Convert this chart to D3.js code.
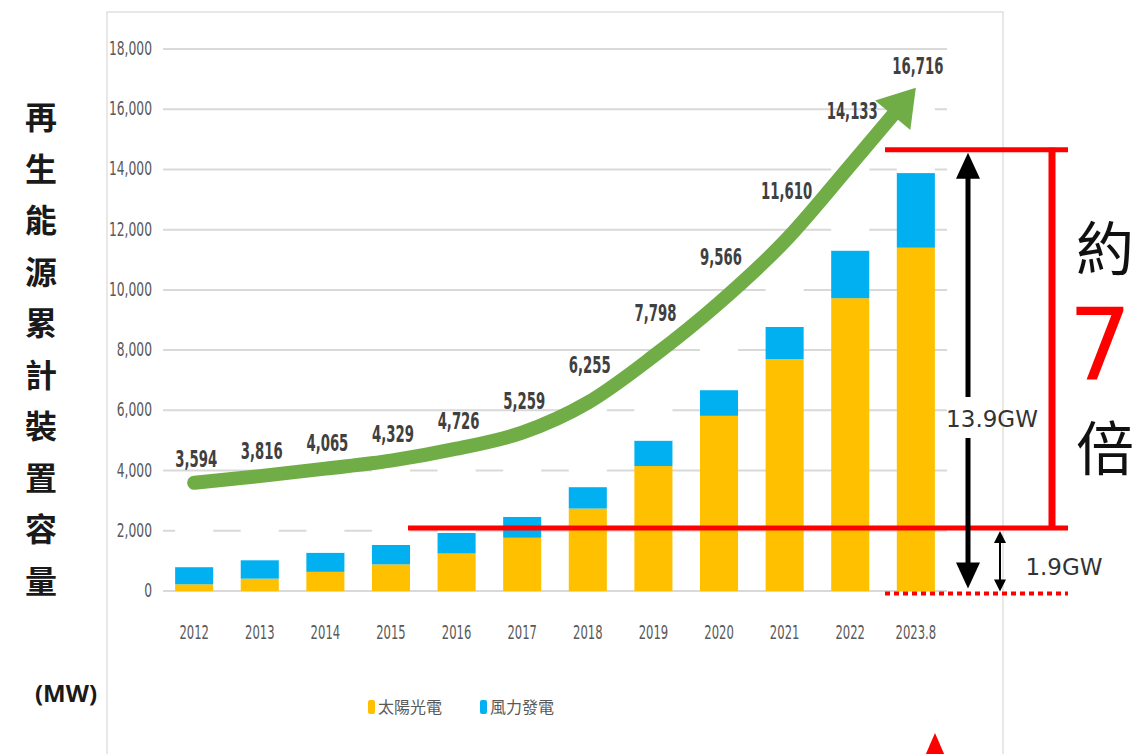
<!DOCTYPE html>
<html>
<head>
<meta charset="utf-8">
<script src="https://cdn.jsdelivr.net/npm/d3@7.9.0/dist/d3.min.js"></script>
<style>
  body { margin: 0; background: #fff; }
  svg { display: block; }
</style>
</head>
<body>
<svg id="chart"></svg>
<script>
// --- Data (MW) ---
const years = ["2012", "2013", "2014", "2015", "2016", "2017", "2018", "2019", "2020", "2021", "2022", "2023.8"];
const solar = [222, 410, 636, 884, 1245, 1768, 2738, 4150, 5817, 7700, 9724, 11400];
const wind = [571, 614, 637, 647, 682, 692, 712, 845, 854, 1070, 1583, 2480];
const total = [3594, 3816, 4065, 4329, 4726, 5259, 6255, 7798, 9566, 11610, 14133, 16716];
const yTicks = [0, 2000, 4000, 6000, 8000, 10000, 12000, 14000, 16000, 18000];
const legendNames = ["太陽光電", "風力發電"];
const axisTitle = "再生能源累計裝置容量";
const unitLabel = "(MW)";

const width = 1139;
const height = 754;

const svg = d3.select("#chart")
  .attr("width", width)
  .attr("height", height);

const narrow = "'Liberation Sans Narrow', 'DejaVu Sans Condensed', 'Liberation Sans', sans-serif";
const cjk = "'Noto Sans CJK TC', 'Noto Sans CJK SC', sans-serif";
const solarColor = "#FFC000";
const windColor = "#00B0F0";
const green = "#70AD47";

// --- Scales ---
const x = d3.scaleBand()
  .domain(years)
  .range([163, 947])
  .paddingInner(0.42)
  .paddingOuter(0.185);
const y = d3.scaleLinear()
  .domain([0, 18000])
  .range([591, 49]);

// chart frame
svg.append("rect")
  .attr("x", 107).attr("y", 12)
  .attr("width", 896).attr("height", 800)
  .attr("fill", "none")
  .attr("stroke", "#d9d9d9")
  .attr("stroke-width", 1.2);

// --- Gridlines ---
svg.append("g")
  .selectAll("line")
  .data(yTicks)
  .join("line")
  .attr("x1", 163).attr("x2", 947)
  .attr("y1", d => y(d)).attr("y2", d => y(d))
  .attr("stroke", "#d9d9d9")
  .attr("stroke-width", 2);

// condensed text helper
function squeeze(sel, sx) {
  sel.attr("transform", function () {
    const t = d3.select(this);
    return `translate(${t.attr("data-x")},${t.attr("data-y")}) scale(${sx},1)`;
  });
}

// y tick labels
svg.append("g")
  .selectAll("text")
  .data(yTicks)
  .join("text")
  .attr("data-x", 152)
  .attr("data-y", d => y(d) + 6)
  .attr("text-anchor", "end")
  .attr("font-family", narrow)
  .attr("font-size", 19)
  .attr("fill", "#595959")
  .text(d => d3.format(",")(d))
  .call(squeeze, 0.72);

// x tick labels
svg.append("g")
  .selectAll("text")
  .data(years)
  .join("text")
  .attr("data-x", d => x(d) + x.bandwidth() / 2)
  .attr("data-y", 639)
  .attr("text-anchor", "middle")
  .attr("font-family", narrow)
  .attr("font-size", 19)
  .attr("fill", "#595959")
  .text(d => d)
  .call(squeeze, 0.68);

// --- Stacked bars (white top segment = other renewables) ---
const rows = years.map((yr, i) => ({
  year: yr, solar: solar[i], wind: wind[i], other: total[i] - solar[i] - wind[i]
}));
const stack = d3.stack().keys(["solar", "wind", "other"])(rows);
const colors = { solar: solarColor, wind: windColor, other: "#ffffff" };

svg.append("g")
  .selectAll("g")
  .data(stack)
  .join("g")
  .attr("fill", d => colors[d.key])
  .selectAll("rect")
  .data(d => d)
  .join("rect")
  .attr("x", d => x(d.data.year))
  .attr("width", x.bandwidth())
  .attr("y", d => y(d[1]))
  .attr("height", d => y(d[0]) - y(d[1]));

// --- Green total arrow ---
const pts = years.map((yr, i) => [x(yr) + x.bandwidth() / 2, y(total[i])]);
const arrowPath = svg.append("path")
  .attr("d", d3.line().curve(d3.curveMonotoneX)(pts))
  .attr("fill", "none")
  .attr("stroke", green)
  .attr("stroke-width", 14)
  .attr("stroke-linecap", "round");
const L = arrowPath.node().getTotalLength();
const headLen = 36, headHalf = 23;
arrowPath.attr("stroke-dasharray", `${L - headLen + 4} ${L}`);
const tip = arrowPath.node().getPointAtLength(L);
const back = arrowPath.node().getPointAtLength(L - headLen);
const ang = Math.atan2(tip.y - back.y, tip.x - back.x);
const nx = -Math.sin(ang), ny = Math.cos(ang);
svg.append("polygon")
  .attr("points", [
    [tip.x, tip.y],
    [back.x + nx * headHalf, back.y + ny * headHalf],
    [back.x - nx * headHalf, back.y - ny * headHalf]
  ].map(p => p.join(",")).join(" "))
  .attr("fill", green);

// total labels, lifted more where the curve is steep
svg.append("g")
  .selectAll("text")
  .data(total)
  .join("text")
  .attr("data-x", (d, i) => pts[i][0] + 2)
  .attr("data-y", (d, i) => {
    const a = pts[Math.max(0, i - 1)][1], b = pts[Math.min(pts.length - 1, i + 1)][1];
    const slope = i === pts.length - 1 ? 0 : Math.abs(a - b) / 2;
    return pts[i][1] - 14 - 0.42 * slope;
  })
  .attr("text-anchor", "middle")
  .attr("font-family", narrow)
  .attr("font-size", 23)
  .attr("font-weight", "bold")
  .attr("fill", "#404040")
  .text(d => d3.format(",")(d))
  .call(squeeze, 0.64);

// --- Legend ---
const legend = svg.append("g")
  .selectAll("g")
  .data(legendNames)
  .join("g")
  .attr("transform", (d, i) => `translate(${368 + i * 112},707)`);
legend.append("rect")
  .attr("x", 0).attr("y", -7)
  .attr("width", 7).attr("height", 14)
  .attr("rx", 2)
  .attr("fill", (d, i) => i === 0 ? solarColor : windColor);
legend.append("text")
  .attr("x", 10).attr("y", 6)
  .attr("font-family", cjk)
  .attr("font-size", 16)
  .attr("fill", "#595959")
  .text(d => d);

// --- Y axis title (vertical) ---
svg.append("g")
  .selectAll("text")
  .data(axisTitle.split(""))
  .join("text")
  .attr("x", 41)
  .attr("y", (d, i) => 115 + i * 51.5)
  .attr("dominant-baseline", "central")
  .attr("text-anchor", "middle")
  .attr("font-family", cjk)
  .attr("font-size", 32)
  .attr("font-weight", "bold")
  .attr("fill", "#1a1a1a")
  .text(d => d);
svg.append("text")
  .attr("x", 66).attr("y", 702)
  .attr("text-anchor", "middle")
  .attr("font-family", "'Noto Sans', sans-serif")
  .attr("font-size", 24)
  .attr("font-weight", "bold")
  .attr("fill", "#1a1a1a")
  .text(unitLabel);

// --- Annotations ---
const ann = svg.append("g");
const red = "#ff0000";
const topY = y(14650), lowY = y(2090), baseY = y(-80);

ann.append("line").attr("x1", 885).attr("x2", 1068).attr("y1", topY).attr("y2", topY)
  .attr("stroke", red).attr("stroke-width", 5);
ann.append("line").attr("x1", 408).attr("x2", 1068).attr("y1", lowY).attr("y2", lowY)
  .attr("stroke", red).attr("stroke-width", 5);
ann.append("line").attr("x1", 1052).attr("x2", 1052).attr("y1", topY - 2).attr("y2", lowY + 2)
  .attr("stroke", red).attr("stroke-width", 7);
ann.append("line").attr("x1", 885).attr("x2", 1068).attr("y1", baseY).attr("y2", baseY)
  .attr("stroke", red).attr("stroke-width", 4).attr("stroke-dasharray", "5,4");

function dblArrow(cx, y1, y2, w, hw, hl) {
  ann.append("line").attr("x1", cx).attr("x2", cx).attr("y1", y1 + hl - 2).attr("y2", y2 - hl + 2)
    .attr("stroke", "#000").attr("stroke-width", w);
  ann.append("polygon").attr("points", `${cx},${y1} ${cx - hw},${y1 + hl} ${cx + hw},${y1 + hl}`).attr("fill", "#000");
  ann.append("polygon").attr("points", `${cx},${y2} ${cx - hw},${y2 - hl} ${cx + hw},${y2 - hl}`).attr("fill", "#000");
}
dblArrow(968, topY + 3, y(80), 5, 12, 26);
dblArrow(1000, lowY + 3, baseY - 2, 2, 6, 12);

// gap in big arrow with label
ann.append("rect").attr("x", 955).attr("y", 397).attr("width", 26).attr("height", 41).attr("fill", "#fff");
ann.append("text")
  .attr("x", 992).attr("y", 427)
  .attr("text-anchor", "middle")
  .attr("font-family", "'DejaVu Sans', sans-serif")
  .attr("font-size", 23)
  .attr("fill", "#333")
  .text("13.9GW");
ann.append("text")
  .attr("x", 1064).attr("y", 575)
  .attr("text-anchor", "middle")
  .attr("font-family", "'DejaVu Sans', sans-serif")
  .attr("font-size", 23)
  .attr("fill", "#333")
  .text("1.9GW");

ann.append("text")
  .attr("x", 1105).attr("y", 245)
  .attr("dominant-baseline", "central")
  .attr("text-anchor", "middle")
  .attr("font-family", cjk)
  .attr("font-size", 58)
  .attr("fill", "#111")
  .text("約");
ann.append("text")
  .attr("x", 1100).attr("y", 380)
  .attr("text-anchor", "middle")
  .attr("font-family", "'DejaVu Sans', sans-serif")
  .attr("font-size", 100)
  .attr("fill", red)
  .text("7");
ann.append("text")
  .attr("x", 1105).attr("y", 445)
  .attr("dominant-baseline", "central")
  .attr("text-anchor", "middle")
  .attr("font-family", cjk)
  .attr("font-size", 58)
  .attr("fill", "#111")
  .text("倍");

// partial red arrow at the bottom edge
ann.append("polygon")
  .attr("points", "935,733 925,756 945,756")
  .attr("fill", red);
</script>
</body>
</html>
